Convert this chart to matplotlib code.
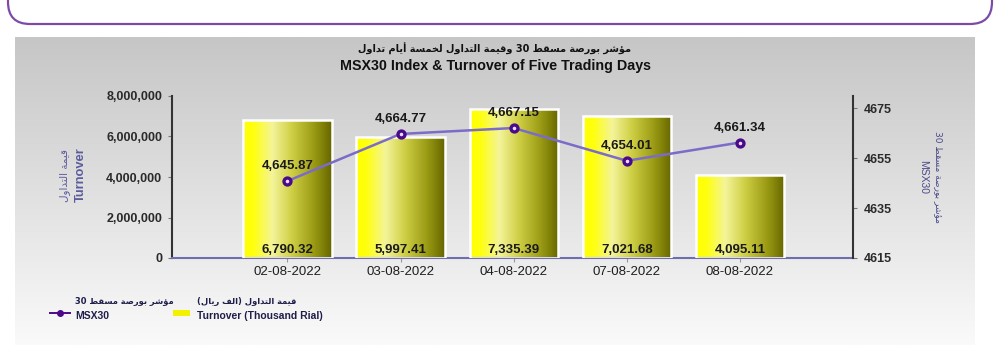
import re
import numpy as np
import matplotlib
matplotlib.use("Agg")
import matplotlib.pyplot as plt
from matplotlib.patches import FancyBboxPatch, Rectangle
from matplotlib.lines import Line2D
from matplotlib.ticker import FuncFormatter
from matplotlib.colors import LinearSegmentedColormap
from matplotlib.transforms import IdentityTransform

# ---------------- data ----------------
dates = ["02-08-2022", "03-08-2022", "04-08-2022", "07-08-2022", "08-08-2022"]
turnover = [6790.32, 5997.41, 7335.39, 7021.68, 4095.11]      # thousand rial
msx30 = [4645.87, 4664.77, 4667.15, 4654.01, 4661.34]
left_ticks = [0, 2000000, 4000000, 6000000, 8000000]
right_ticks = [4615, 4635, 4655, 4675]

title_ar = "مؤشر بورصة مسقط 30 وقيمة التداول لخمسة أيام تداول"
title_en = "MSX30 Index & Turnover of Five Trading Days"
ylab_left_ar = "قيمة التداول"
ylab_left_en = "Turnover"
ylab_right_ar = "مؤشر بورصة مسقط 30"
ylab_right_en = "MSX30"
leg_line_ar = "مؤشر بورصة مسقط 30"
leg_line_en = "MSX30"
leg_bar_ar = "قيمة التداول (الف ريال)"
leg_bar_en = "Turnover (Thousand Rial)"

# ---------------- minimal Arabic shaping (presentation forms + RTL) ----------------
FORMS = {
    '\u0627': (0xFE8D, 0xFE8E, None, None),
    '\u0623': (0xFE83, 0xFE84, None, None),
    '\u0624': (0xFE85, 0xFE86, None, None),
    '\u0628': (0xFE8F, 0xFE90, 0xFE91, 0xFE92),
    '\u0629': (0xFE93, 0xFE94, None, None),
    '\u062A': (0xFE95, 0xFE96, 0xFE97, 0xFE98),
    '\u062E': (0xFEA5, 0xFEA6, 0xFEA7, 0xFEA8),
    '\u062F': (0xFEA9, 0xFEAA, None, None),
    '\u0631': (0xFEAD, 0xFEAE, None, None),
    '\u0633': (0xFEB1, 0xFEB2, 0xFEB3, 0xFEB4),
    '\u0634': (0xFEB5, 0xFEB6, 0xFEB7, 0xFEB8),
    '\u0635': (0xFEB9, 0xFEBA, 0xFEBB, 0xFEBC),
    '\u0637': (0xFEC1, 0xFEC2, 0xFEC3, 0xFEC4),
    '\u0641': (0xFED1, 0xFED2, 0xFED3, 0xFED4),
    '\u0642': (0xFED5, 0xFED6, 0xFED7, 0xFED8),
    '\u0644': (0xFEDD, 0xFEDE, 0xFEDF, 0xFEE0),
    '\u0645': (0xFEE1, 0xFEE2, 0xFEE3, 0xFEE4),
    '\u0648': (0xFEED, 0xFEEE, None, None),
    '\u064A': (0xFEF1, 0xFEF2, 0xFEF3, 0xFEF4),
}
LAMALEF = {'\u0627': (0xFEFB, 0xFEFC), '\u0623': (0xFEF7, 0xFEF8)}


def _dual(c):
    return c in FORMS and FORMS[c][2] is not None


def ar(s):
    out = []
    i, n = 0, len(s)
    while i < n:
        c = s[i]
        if c not in FORMS:
            out.append(c)
            i += 1
            continue
        prev = s[i - 1] if i > 0 else ''
        jp = _dual(prev)
        if c == '\u0644' and i + 1 < n and s[i + 1] in LAMALEF:
            lig = LAMALEF[s[i + 1]]
            out.append(chr(lig[1] if jp else lig[0]))
            i += 2
            continue
        nxt = s[i + 1] if i + 1 < n else ''
        jn = _dual(c) and nxt in FORMS
        f = FORMS[c]
        code = f[3] if (jp and jn) else f[1] if jp else f[2] if jn else f[0]
        out.append(chr(code))
        i += 1
    vis = ''.join(out)[::-1]
    vis = re.sub(r'[0-9]+', lambda m: m.group(0)[::-1], vis)
    vis = vis.translate(str.maketrans('()', ')('))
    return vis


EN = ['Liberation Sans', 'DejaVu Sans']
AR = ['DejaVu Sans']

W, H = 1000, 345
fig = plt.figure(figsize=(W / 100, H / 100), dpi=100, facecolor='white')

# ---------------- top rounded white box ----------------
box = FancyBboxPatch((8, H - 24), 984, 80, boxstyle="round,pad=0,rounding_size=22",
                     transform=IdentityTransform(), facecolor='white',
                     edgecolor='#7d4ba6', linewidth=1.6, zorder=0)
fig.patches.append(box)

# ---------------- gray gradient panel ----------------
bg = fig.add_axes([15 / W, 0, 960 / W, (H - 37) / H], zorder=0)
grad = np.linspace(0, 1, 256).reshape(-1, 1)
bg_cmap = LinearSegmentedColormap.from_list('bg', ['#fafafa', '#c6c6c6'])
bg.imshow(grad, aspect='auto', cmap=bg_cmap, origin='lower', extent=[0, 1, 0, 1])
bg.set_axis_off()

# ---------------- main axes ----------------
ax = fig.add_axes([172 / W, 1 - 258 / H, 681 / W, 162 / H], zorder=2)
ax.patch.set_alpha(0)
x = np.arange(len(dates))
bar_h = [v * 1000 for v in turnover]
bars = ax.bar(x, bar_h, width=0.78, color='none', edgecolor='white', linewidth=1.8, zorder=3)

bar_cmap = LinearSegmentedColormap.from_list(
    'bar', [(0.0, '#ffff00'), (0.12, '#ffff10'), (0.33, '#f4f49a'),
            (0.55, '#cfcf45'), (0.8, '#9a9a14'), (1.0, '#666600')])
hgrad = np.linspace(0, 1, 256).reshape(1, -1)
for b in bars:
    im = ax.imshow(hgrad, cmap=bar_cmap, aspect='auto',
                   extent=[b.get_x(), b.get_x() + b.get_width(), 0, b.get_height()],
                   zorder=2)
    im.set_clip_path(b)

for i, v in enumerate(turnover):
    ax.annotate(f"{v:,.2f}", (x[i], 0), xytext=(0, 5.8), textcoords='offset points',
                ha='center', va='center', fontsize=9.5, fontweight='bold',
                color='#1a1a1a', family=EN, zorder=6)

ax.set_xlim(-1.02, 5.0)
ax.set_ylim(0, 8000000)
ax.set_yticks(left_ticks)
ax.yaxis.set_major_formatter(FuncFormatter(lambda v, p: f"{int(v):,}"))
ax.set_xticks(x)
ax.set_xticklabels(dates)
for lab in ax.get_xticklabels():
    lab.set_family(EN)
    lab.set_fontsize(9.5)
    lab.set_color('#1e1e1e')
for lab in ax.get_yticklabels():
    lab.set_family(EN)
    lab.set_fontsize(9)
    lab.set_fontweight('bold')
    lab.set_color('#2a2a2a')
ax.tick_params(axis='y', length=3, width=0.8, color='#777777', pad=4)
ax.tick_params(axis='x', length=3, width=0.8, color='#999999', pad=3)
ax.spines['top'].set_visible(False)
ax.spines['right'].set_visible(False)
ax.spines['left'].set_color('#333333')
ax.spines['left'].set_linewidth(1.5)
ax.spines['bottom'].set_color('#6f6fb0')
ax.spines['bottom'].set_linewidth(1.5)

# ---------------- secondary axis (index line) ----------------
ax2 = ax.twinx()
ax2.set_zorder(3)
ax2.patch.set_alpha(0)
ax2.plot(x, msx30, color='#7a6cc8', lw=1.8, marker='o', ms=5, mfc='#e8defa',
         mec='#4b0a8a', mew=2.4, zorder=5)
for i, v in enumerate(msx30):
    ax2.annotate(f"{v:,.2f}", (x[i], v), xytext=(0, 10.8), textcoords='offset points',
                 ha='center', va='center', fontsize=9.5, fontweight='bold',
                 color='#1a1a1a', family=EN)
ax2.set_ylim(4615, 4680)
ax2.set_yticks(right_ticks)
for lab in ax2.get_yticklabels():
    lab.set_family(EN)
    lab.set_fontsize(9)
    lab.set_fontweight('bold')
    lab.set_color('#2a2a2a')
ax2.tick_params(axis='y', length=3, width=0.8, color='#777777', pad=5)
for s in ['top', 'left', 'bottom']:
    ax2.spines[s].set_visible(False)
ax2.spines['right'].set_color('#333333')
ax2.spines['right'].set_linewidth(1.5)
ax2.set_xlim(-1.02, 5.0)

# ---------------- titles ----------------
fig.text(495 / W, 1 - 49 / H, ar(title_ar), ha='center', va='center', fontsize=7,
         fontweight='bold', family=AR, color='#111111')
fig.text(495 / W, 1 - 66 / H, title_en, ha='center', va='center', fontsize=10.3,
         fontweight='bold', family=EN, color='#111111')

# ---------------- axis labels ----------------
lab_col = '#5c5c9c'
fig.text(65 / W, 1 - 175 / H, ar(ylab_left_ar), rotation=90, ha='center', va='center',
         fontsize=7.5, family=AR, color=lab_col)
fig.text(81 / W, 1 - 175 / H, ylab_left_en, rotation=90, ha='center', va='center',
         fontsize=9.3, fontweight='bold', family=EN, color=lab_col)
fig.text(938 / W, 1 - 177 / H, ar(ylab_right_ar), rotation=270, ha='center', va='center',
         fontsize=6.5, family=AR, color='#4a4a8a')
fig.text(923 / W, 1 - 177 / H, ylab_right_en, rotation=270, ha='center', va='center',
         fontsize=7.5, family=EN, color='#4a4a8a')

# ---------------- legend ----------------
fig.add_artist(Line2D([50 / W, 70 / W], [1 - 313 / H, 1 - 313 / H], color='#4b0a8a',
                      lw=1.4, transform=fig.transFigure))
fig.add_artist(Line2D([60 / W], [1 - 313 / H], color='#4b0a8a', marker='o', ms=4,
                      lw=0, transform=fig.transFigure))
leg_col = '#1e1e4a'
fig.text(75 / W, 1 - 302 / H, ar(leg_line_ar), ha='left', va='center', fontsize=6,
         fontweight='bold', family=AR, color=leg_col)
fig.text(75 / W, 1 - 316 / H, leg_line_en, ha='left', va='center', fontsize=7.5,
         fontweight='bold', family=EN, color=leg_col)
fig.patches.append(Rectangle((173 / W, 1 - 316 / H), 17 / W, 6 / H, transform=fig.transFigure,
                             facecolor='#f2f200', edgecolor='none'))
fig.text(197 / W, 1 - 301 / H, ar(leg_bar_ar), ha='left', va='center', fontsize=6,
         fontweight='bold', family=AR, color=leg_col)
fig.text(197 / W, 1 - 316 / H, leg_bar_en, ha='left', va='center', fontsize=7.5,
         fontweight='bold', family=EN, color=leg_col)

fig.savefig('out.png', dpi=100, facecolor='white')
